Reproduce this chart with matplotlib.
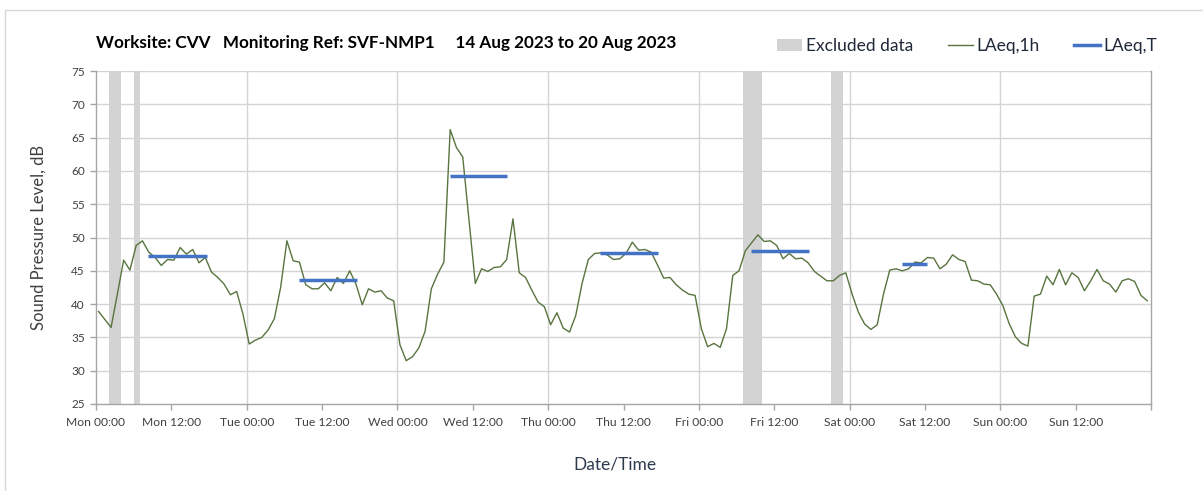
import matplotlib
matplotlib.use("Agg")
import matplotlib.pyplot as plt
from matplotlib.patches import Rectangle, Patch
from matplotlib.lines import Line2D

# Hourly LAeq,1h values (dB), one per hour from Mon 00:00
laeq_1h = [
    38.9, 37.7, 36.5, 41.5, 46.6, 45.1, 48.8, 49.5, 47.8, 47.0, 45.8, 46.7,
    46.6, 48.5, 47.5, 48.2, 46.2, 47.0, 44.8, 44.0, 43.0, 41.4, 41.9, 38.5,
    34.0, 34.6, 35.0, 36.1, 37.8, 42.5, 49.5, 46.5, 46.3, 42.9, 42.3, 42.3,
    43.2, 42.0, 44.0, 43.1, 45.0, 43.0, 39.9, 42.3, 41.8, 42.0, 40.9, 40.5,
    33.9, 31.5, 32.1, 33.4, 35.9, 42.3, 44.5, 46.3, 66.2, 63.5, 62.1, 52.6,
    43.1, 45.3, 44.9, 45.5, 45.6, 46.7, 52.8, 44.7, 44.0, 42.1, 40.3, 39.6,
    36.9, 38.7, 36.4, 35.8, 38.3, 43.1, 46.7, 47.6, 47.7, 47.4, 46.7, 46.8,
    47.6, 49.3, 48.1, 48.2, 47.8, 45.9, 43.9, 44.0, 42.9, 42.1, 41.5, 41.3,
    36.3, 33.6, 34.1, 33.5, 36.3, 44.3, 45.0, 48.0, 49.2, 50.4, 49.4, 49.5,
    48.8, 46.8, 47.6, 46.8, 46.9, 46.2, 44.9, 44.2, 43.5, 43.5, 44.3, 44.7,
    41.5, 38.8, 37.0, 36.2, 36.9, 41.5, 45.1, 45.3, 45.0, 45.3, 46.3, 46.2,
    47.0, 46.9, 45.3, 46.0, 47.4, 46.7, 46.4, 43.6, 43.5, 43.0, 42.9, 41.5,
    39.8, 37.1, 35.1, 34.1, 33.7, 41.2, 41.5, 44.2, 42.9, 45.2, 42.9, 44.7,
    44.0, 42.0, 43.5, 45.2, 43.5, 43.0, 41.8, 43.5, 43.8, 43.4, 41.3, 40.5,
]
hour_offset = 0.4  # each hourly value is drawn inside its hour

# Period LAeq,T levels: start hour, end hour, level (dB)
laeq_t_start = [8.3, 32.3, 56.3, 80.3, 104.3, 128.3]
laeq_t_end = [17.6, 41.6, 65.5, 89.5, 113.5, 132.4]
laeq_t_level = [47.25, 43.65, 59.25, 47.7, 47.95, 46.05]

# Excluded data periods (hours from Mon 00:00)
excl_start = [2.0, 6.0, 103.0, 117.0]
excl_end = [4.0, 7.0, 106.0, 119.0]

days = ["Mon", "Tue", "Wed", "Thu", "Fri", "Sat", "Sun"]
tick_labels = [f"{d} {t}" for d in days for t in ("00:00", "12:00")]

title = "Worksite: CVV   Monitoring Ref: SVF-NMP1     14 Aug 2023 to 20 Aug 2023"

plt.rcParams["font.family"] = ["Lato", "DejaVu Sans"]

W, H = 1203, 491
fig = plt.figure(figsize=(W / 100, H / 100), dpi=100)
fig.patch.set_facecolor("white")

# Chart-area frame
fig.add_artist(Rectangle((5 / W, -0.05), 1.2, 1 - 10 / H + 0.05,
                         transform=fig.transFigure, fill=False,
                         edgecolor="#D9D9D9", linewidth=1.0))

ax = fig.add_axes([96 / W, 1 - 404 / H, (1151 - 96) / W, (404 - 71) / H])

grid_c = "#D4D4D4"
spine_c = "#A6A6A6"
text_c = "#404040"

for s, e in zip(excl_start, excl_end):
    ax.axvspan(s, e, color="#D3D3D3", linewidth=0, zorder=1)

x = [i + hour_offset for i in range(len(laeq_1h))]
ax.plot(x, laeq_1h, color="#58743F", linewidth=1.0, zorder=3)

for s, e, v in zip(laeq_t_start, laeq_t_end, laeq_t_level):
    ax.plot([s, e], [v, v], color="#4472C4", linewidth=2.5,
            solid_capstyle="butt", zorder=4)

ax.set_xlim(0, 168)
ax.set_ylim(25, 75)
ax.set_yticks(range(25, 76, 5))
ax.set_xticks(range(0, 168, 12))
ax.set_xticklabels(tick_labels)
ax.set_xticks([168], minor=True)

for y in range(30, 76, 5):
    ax.axhline(y, color=grid_c, linewidth=1.0, zorder=0)
for d in range(24, 168, 24):
    ax.axvline(d, color=grid_c, linewidth=1.0, zorder=0)

ax.spines["top"].set_visible(False)
for side in ("left", "bottom", "right"):
    ax.spines[side].set_color(spine_c)
    ax.spines[side].set_linewidth(1.0)

ax.tick_params(axis="both", which="both", direction="out", color=spine_c,
               length=4, width=1.0, labelcolor=text_c)
ax.tick_params(axis="y", labelsize=8.5, pad=4)
ax.tick_params(axis="x", labelsize=8.7, pad=5)

ax.set_ylabel("Sound Pressure Level, dB", fontsize=12, color=text_c, labelpad=18)
ax.set_xlabel("Date/Time", fontsize=12.5, color="#2E3A4E")
ax.xaxis.set_label_coords((615 - 96) / (1151 - 96), -0.157)

fig.text(96 / W, 1 - 43 / H, title, fontsize=12.3, fontweight="bold",
         color="black", ha="left", va="center")

handles = [
    Patch(facecolor="#D3D3D3", edgecolor="none"),
    Line2D([], [], color="#58743F", linewidth=1.0),
    Line2D([], [], color="#4472C4", linewidth=2.5),
]
fig.legend(handles, ["Excluded data", "LAeq,1h", "LAeq,T"],
           loc="center left", bbox_to_anchor=(765 / W, 1 - 46 / H),
           ncol=3, frameon=False, fontsize=12.5, labelcolor="#1F2838",
           handlelength=1.45, handletextpad=0.2, columnspacing=2.0,
           borderpad=0.2)

fig.savefig("out.png", dpi=100, facecolor="white")
